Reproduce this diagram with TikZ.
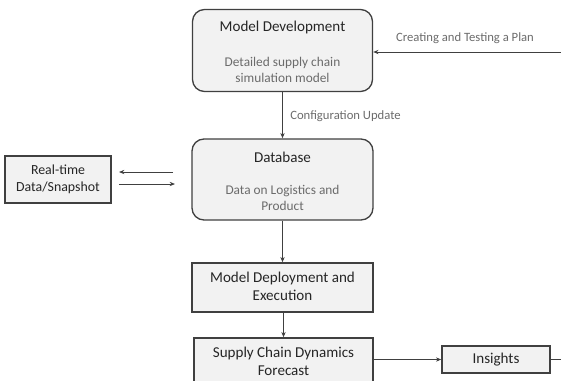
\documentclass[tikz,border=0pt]{standalone}
\usepackage{fontspec}
\setmainfont{Carlito}
\usetikzlibrary{arrows.meta}
\definecolor{boxfill}{HTML}{F2F2F2}
\definecolor{boxline}{HTML}{404040}
\definecolor{titletext}{HTML}{262626}
\definecolor{subtext}{HTML}{6B6B6B}
\tikzset{
  rbox/.style={draw=boxline, fill=boxfill, line width=1pt, rounded corners=9pt, inner sep=0pt},
  sbox/.style={draw=boxline, fill=boxfill, line width=1pt, inner sep=0pt},
  ttl/.style={text=titletext, font=\fontsize{11.3}{13.2}\selectfont, align=center, inner sep=0pt},
  ttls/.style={text=titletext, font=\fontsize{10.4}{13}\selectfont, align=center, inner sep=0pt},
  sub/.style={text=subtext, font=\fontsize{10}{12}\selectfont, align=center, inner sep=0pt},
  lbl/.style={text=subtext, font=\fontsize{9.5}{11}\selectfont, inner sep=0pt},
  conn/.style={draw=boxline, line width=0.75pt},
  arr/.style={conn, -{Stealth[length=4pt,width=3.2pt]}}
}
\begin{document}
\begin{tikzpicture}[x=0.75pt, y=-0.75pt]
\useasboundingbox (0,0) rectangle (561,380);
\clip (0,0) rectangle (561,380);
% boxes
\node[rbox, minimum width=135pt, minimum height=61.5pt] (md) at (282.5,50.5) {};
\node[rbox, minimum width=135.75pt, minimum height=60.75pt] (db) at (282.5,179.5) {};
\node[sbox, minimum width=135.75pt, minimum height=36.75pt] (dep) at (282.5,287.5) {};
\node[sbox, minimum width=134.25pt, minimum height=37.5pt] (sc) at (283.5,363) {};
\node[sbox, minimum width=81pt, minimum height=20.25pt] (ins) at (496,359.5) {};
\node[sbox, minimum width=79.5pt, minimum height=35.25pt] (rt) at (58,179.5) {};
% texts
\node[ttl] (mdT) at (282.5,27) {Model Development};
\node[sub] (mdS) at (282.5,70) {Detailed supply chain\\simulation model};
\node[ttl] (dbT) at (282.5,157) {Database};
\node[sub] (dbS) at (282.5,198) {Data on Logistics and\\Product};
\node[ttl] (depT) at (282.5,286.5) {Model Deployment and\\Execution};
\node[ttl] (scT) at (283.5,361.5) {Supply Chain Dynamics\\Forecast};
\node[ttl] (insT) at (496,359.5) {Insights};
\node[ttls] (rtT) at (58,179.5) {Real-time\\Data/Snapshot};
% connectors
\coordinate (planR) at (565,52);
\draw[arr] (planR) -- (md.east |- planR);
\node[lbl] (planL) at (465,38) {Creating and Testing a Plan};
\draw[arr] (md.south) -- (db.north);
\node[lbl, anchor=west] (cfgL) at (290,116) {Configuration Update};
\coordinate (a1s) at (173,172);
\coordinate (a1e) at (119,172);
\coordinate (a2s) at (119,184);
\coordinate (a2e) at (175,184);
\draw[arr] (a1s) -- (a1e);
\draw[arr] (a2s) -- (a2e);
\draw[arr] (db.south) -- (dep.north);
\draw[arr] (dep.south -| sc.north) -- (sc.north);
\draw[arr] (sc.east |- ins.west) -- (ins.west);
\coordinate (insR) at (565,359.5);
\draw[conn] (ins.east) -- (insR);
\end{tikzpicture}
\end{document}
